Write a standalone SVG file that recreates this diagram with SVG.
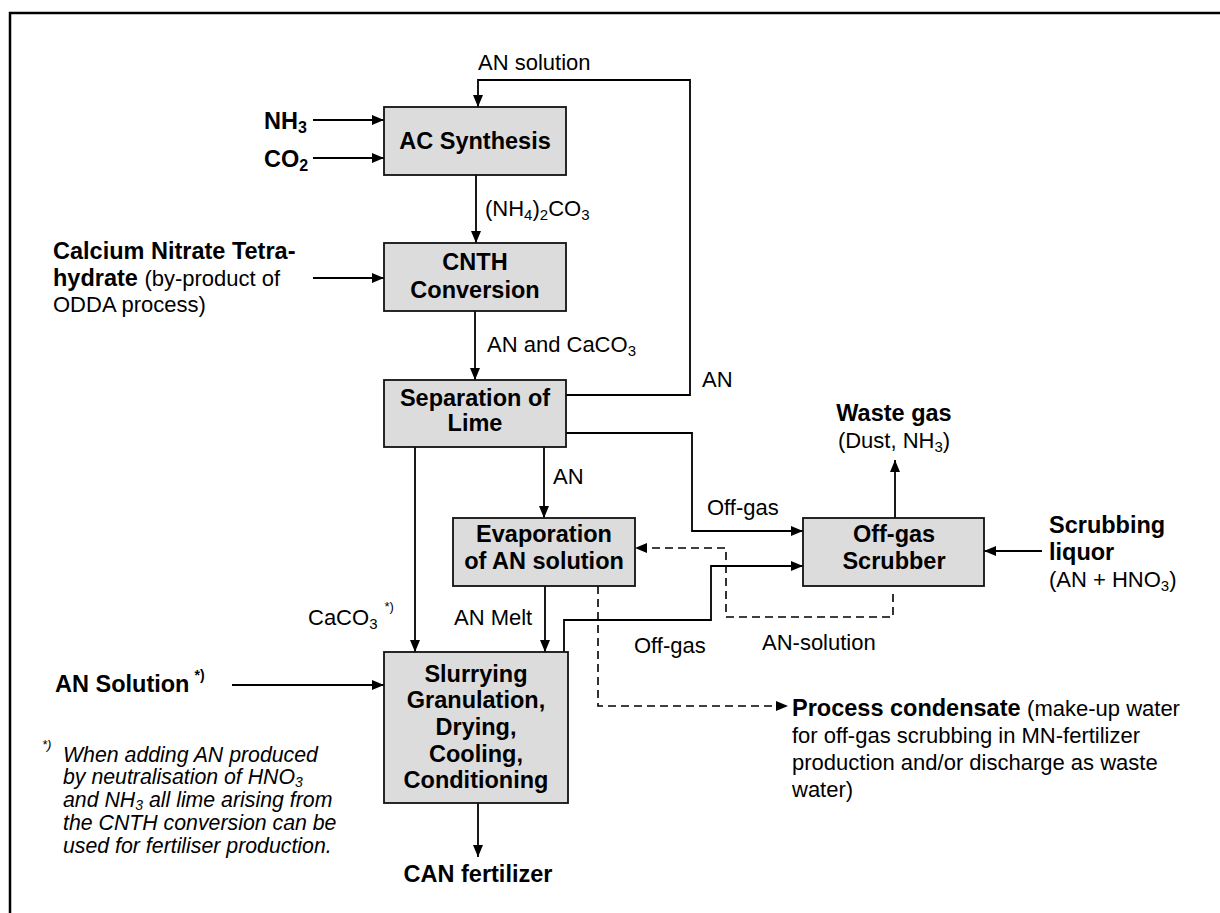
<svg xmlns="http://www.w3.org/2000/svg" width="1220" height="913" viewBox="0 0 1220 913">
<defs>
<marker id="ah" viewBox="0 0 12 10" refX="12" refY="5" markerWidth="12" markerHeight="10" markerUnits="userSpaceOnUse" orient="auto">
<path d="M0,0 L12,5 L0,10 z" fill="#000"/>
</marker>
<style>
.box{fill:#dcdcdc;stroke:#111;stroke-width:1.8}
.bt{font-family:"Liberation Sans",Arial,sans-serif;font-size:23.5px;font-weight:bold;text-anchor:middle;fill:#000}
.b{font-family:"Liberation Sans",Arial,sans-serif;font-size:23.5px;font-weight:bold;fill:#000}
.r{font-family:"Liberation Sans",Arial,sans-serif;font-size:22px;fill:#000}
.i{font-family:"Liberation Sans",Arial,sans-serif;font-size:21.3px;font-style:italic;fill:#000}
.fn{font-family:"Liberation Sans",Arial,sans-serif;font-size:13px;font-style:italic;fill:#000}
.n{font-weight:normal;font-size:22px}
.ln{fill:none;stroke:#000;stroke-width:1.8}
.ar{fill:none;stroke:#000;stroke-width:1.8;marker-end:url(#ah)}
.da{fill:none;stroke:#000;stroke-width:1.6;stroke-dasharray:8,5;marker-end:url(#ah)}
</style>
</defs>
<rect width="1220" height="913" fill="#fff"/>
<path d="M10,913 V13 H1220" fill="none" stroke="#000" stroke-width="2.5"/>

<g id="connectors">
<path class="ar" d="M313,120 H384"/>
<path class="ar" d="M313,158 H384"/>
<path class="ar" d="M313,278 H384"/>
<path class="ar" d="M476,175 V243"/>
<path class="ar" d="M475,311 V380"/>
<path class="ar" d="M566,395 H690 V80 H478 V107"/>
<path class="ar" d="M544,447 V518"/>
<path class="ar" d="M415,447 V652"/>
<path class="ar" d="M566,433 H692 V531 H803"/>
<path class="ar" d="M545,586 V652"/>
<path class="ar" d="M564,652 V620 H711 V566 H803"/>
<path class="ar" d="M895,518 V460"/>
<path class="ar" d="M1042,551 H984"/>
<path class="ar" d="M232,685 H384"/>
<path class="ar" d="M478,803 V857"/>
<path class="da" d="M893,594 V617 H726 V548 H635"/>
<path class="da" d="M598,586 V706 H788"/>
</g>

<g id="ac-synthesis">
<rect class="box" x="384" y="107" width="182" height="68"/>
<text class="bt" x="475" y="149">AC Synthesis</text>
</g>
<g id="cnth-conversion">
<rect class="box" x="384" y="243" width="182" height="68"/>
<text class="bt" x="475" y="270">CNTH</text>
<text class="bt" x="475" y="298">Conversion</text>
</g>
<g id="separation-of-lime">
<rect class="box" x="384" y="380" width="182" height="67"/>
<text class="bt" x="475" y="406">Separation of</text>
<text class="bt" x="475" y="431">Lime</text>
</g>
<g id="evaporation">
<rect class="box" x="453" y="518" width="182" height="68"/>
<text class="bt" x="544" y="542">Evaporation</text>
<text class="bt" x="544" y="569">of AN solution</text>
</g>
<g id="off-gas-scrubber">
<rect class="box" x="803" y="518" width="181" height="68"/>
<text class="bt" x="894" y="542">Off-gas</text>
<text class="bt" x="894" y="569">Scrubber</text>
</g>
<g id="slurrying">
<rect class="box" x="384" y="652" width="184" height="151"/>
<text class="bt" x="476" y="682">Slurrying</text>
<text class="bt" x="476" y="708">Granulation,</text>
<text class="bt" x="476" y="735">Drying,</text>
<text class="bt" x="476" y="762">Cooling,</text>
<text class="bt" x="476" y="788">Conditioning</text>
</g>

<g id="labels">
<text class="r" x="478" y="70">AN solution</text>
<text class="b" x="264" y="129">NH<tspan font-size="16" dy="4">3</tspan></text>
<text class="b" x="264" y="167">CO<tspan font-size="16" dy="4">2</tspan></text>
<text class="r" x="485" y="216">(NH<tspan font-size="15" dy="4">4</tspan><tspan dy="-4">)</tspan><tspan font-size="15" dy="4">2</tspan><tspan dy="-4">CO</tspan><tspan font-size="15" dy="4">3</tspan></text>
<text class="b" x="53" y="259">Calcium Nitrate Tetra-</text>
<text class="b" x="53" y="286">hydrate <tspan class="n">(by-product of</tspan></text>
<text class="r" x="53" y="312">ODDA process)</text>
<text class="r" x="487" y="352">AN and CaCO<tspan font-size="15" dy="4">3</tspan></text>
<text class="r" x="702" y="387">AN</text>
<text class="r" x="553" y="484">AN</text>
<text class="b" x="894" y="421" text-anchor="middle">Waste gas</text>
<text class="r" x="894" y="448" text-anchor="middle">(Dust, NH<tspan font-size="15" dy="4">3</tspan><tspan dy="-4">)</tspan></text>
<text class="r" x="707" y="515">Off-gas</text>
<text class="b" x="1049" y="533">Scrubbing</text>
<text class="b" x="1049" y="560">liquor</text>
<text class="r" x="1049" y="587">(AN + HNO<tspan font-size="15" dy="4">3</tspan><tspan dy="-4">)</tspan></text>
<text class="r" x="308" y="625">CaCO<tspan font-size="15" dy="4">3</tspan><tspan font-size="13" dx="7" dy="-18">*)</tspan></text>
<text class="r" x="454" y="625">AN Melt</text>
<text class="r" x="634" y="653">Off-gas</text>
<text class="r" x="762" y="650">AN-solution</text>
<text class="b" x="55" y="692">AN Solution<tspan font-size="14" dx="5" dy="-12">*)</tspan></text>
<text class="b" x="792" y="716">Process condensate <tspan class="n">(make-up water</tspan></text>
<text class="r" x="792" y="743">for off-gas scrubbing in MN-fertilizer</text>
<text class="r" x="792" y="770">production and/or discharge as waste</text>
<text class="r" x="792" y="797">water)</text>
<text class="fn" x="42" y="749">*)</text>
<text class="i" x="63" y="762">When adding AN produced</text>
<text class="i" x="63" y="784">by neutralisation of HNO<tspan font-size="14" dy="3">3</tspan></text>
<text class="i" x="63" y="807">and NH<tspan font-size="14" dy="3">3</tspan><tspan dy="-3"> all lime arising from</tspan></text>
<text class="i" x="63" y="830">the CNTH conversion can be</text>
<text class="i" x="63" y="853">used for fertiliser production.</text>
<text class="b" x="478" y="882" text-anchor="middle">CAN fertilizer</text>
</g>
</svg>
